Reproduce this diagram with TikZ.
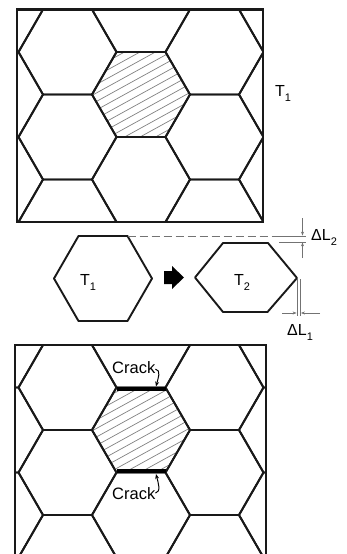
\documentclass[tikz,border=0pt]{standalone}
\usepackage{fontspec}
\setmainfont{Liberation Sans}
\usetikzlibrary{arrows.meta}

\newcommand{\lsub}[1]{\raisebox{-0.33em}{\fontsize{11}{11}\selectfont #1}}

\tikzset{
  hexline/.style={line width=1.9pt, line join=round, black!90},
  boxline/.style={line width=2.5pt, black!90},
  hatchline/.style={line width=0.7pt, black!50},
  dimline/.style={line width=0.9pt, black!55},
  dimarrow/.style={dimline, -{Stealth[length=4pt,width=3pt]}},
  crackbar/.style={line width=3.6pt, black},
  leader/.style={line width=1pt, -{Stealth[length=5pt,width=4pt]}},
  lbl/.style={font=\fontsize{16}{19}\selectfont, inner sep=0pt},
  cracklbl/.style={font=\fontsize{16.5}{19}\selectfont, inner sep=0pt}
}

\begin{document}
\begin{tikzpicture}[x=1pt,y=-1pt]
    \useasboundingbox (0,0) rectangle (347,554);

    % Sheet at T1
    \begin{scope}
        \clip (17,9.5) rectangle (263,222);
        \begin{scope}
            \clip (92,94.5) -- (116.5,52) -- (165.5,52) -- (190,94.5) -- (165.5,137) -- (116.5,137) -- cycle;
            \foreach \t in {-51,-42.5,...,52}
                \draw[hatchline] (80,94.5+\t+33) -- (200,94.5+\t-33);
        \end{scope}
        \foreach \i in {-2,...,2}
            \foreach \j in {-2,...,2}{
                \pgfmathsetmacro\cy{94.5+85*\j+42.5*mod(abs(\i),2)}
                \draw[hexline, shift={(141+73.5*\i,\cy)}] (-49,0) -- (-24.5,-42.5) -- (24.5,-42.5) -- (49,0) -- (24.5,42.5) -- (-24.5,42.5) -- cycle;
            }
    \end{scope}
    \draw[boxline] (17,9.5) rectangle (263,222);
    \node[lbl, anchor=base west] (tsheet) at (275,96) {T\lsub{1}};

    % Single grain, before and after
    \draw[hexline] (54,278.5) -- (78.5,236) -- (127.5,236) -- (152,278.5) -- (127.5,321) -- (78.5,321) -- cycle;
    \node[lbl, anchor=base west] (tone) at (80,285) {T\lsub{1}};
    \fill (164,271) -- (172,271) -- (172,266) -- (184,277.5) -- (172,289) -- (172,284) -- (164,284) -- cycle;
    \draw[hexline] (195,277.5) -- (223,243) -- (268,243) -- (297,278) -- (267.5,312) -- (223,312) -- cycle;
    \node[lbl, anchor=base west] (ttwo) at (234,285) {T\lsub{2}};

    % Dimensions
    \coordinate (oldtop) at (127.5,236);
    \coordinate (dashend) at (272,236);
    \coordinate (oldtopend) at (306,236);
    \coordinate (newtop) at (279,242);
    \coordinate (newtopend) at (306,242);
    \coordinate (dltwoa) at (302.5,218);
    \coordinate (dltwob) at (302.5,235.6);
    \coordinate (dltwoc) at (302.5,258);
    \coordinate (dltwod) at (302.5,242.4);
    \draw[dimline, dash pattern=on 8pt off 4pt] (oldtop) -- (dashend);
    \draw[dimline] (dashend) -- (oldtopend);
    \draw[dimline] (newtop) -- (newtopend);
    \draw[dimarrow] (dltwoa) -- (dltwob);
    \draw[dimarrow] (dltwoc) -- (dltwod);
    \node[lbl, anchor=base west] (dltwo) at (311,240) {ΔL\lsub{2}};

    \coordinate (vxa) at (297,279);
    \coordinate (vxb) at (297,316);
    \coordinate (vxc) at (300.5,279);
    \coordinate (vxd) at (300.5,316);
    \coordinate (dlonea) at (282,313);
    \coordinate (dloneb) at (296.6,313);
    \coordinate (dlonec) at (320,313);
    \coordinate (dloned) at (300.9,313);
    \draw[dimline] (vxa) -- (vxb);
    \draw[dimline] (vxc) -- (vxd);
    \draw[dimarrow] (dlonea) -- (dloneb);
    \draw[dimarrow] (dlonec) -- (dloned);
    \node[lbl, anchor=base west] (dlone) at (287,335) {ΔL\lsub{1}};

    % Sheet at T2, cracked
    \begin{scope}
        \clip (15,345) rectangle (266,554);
        \begin{scope}
            \clip (92,430) -- (116.5,390.5) -- (165.5,390.5) -- (190,430) -- (165.5,469.5) -- (116.5,469.5) -- cycle;
            \foreach \t in {-51,-42.5,...,52}
                \draw[hatchline] (80,430+\t+33) -- (200,430+\t-33);
        \end{scope}
        \foreach \i in {-2,...,2}
            \foreach \j in {-1,...,2}{
                \pgfmathsetmacro\cy{430+85*\j+42.5*mod(abs(\i),2)}
                \draw[hexline, shift={(141+73.5*\i,\cy)}] (-49,0) -- (-24.5,-42.5) -- (24.5,-42.5) -- (49,0) -- (24.5,42.5) -- (-24.5,42.5) -- cycle;
            }
    \end{scope}
    \draw[boxline] (15,554) -- (15,345) -- (266,345) -- (266,554);

    % Cracks
    \draw[crackbar] (116.5,389) -- (165.5,389);
    \draw[crackbar] (116.5,471) -- (165.5,471);
    \node[cracklbl, anchor=base west] (cracka) at (112,373) {Crack};
    \node[cracklbl, anchor=base west] (crackb) at (112,499) {Crack};
    \coordinate (crackatip) at (156,386.5);
    \coordinate (crackbtip) at (156,474);
    \draw[leader] ([shift={(0,2)}]cracka.east) .. controls +(6,1) and +(2,-8) .. (crackatip);
    \draw[leader] ([shift={(0,0)}]crackb.east) .. controls +(6,-1) and +(2,8) .. (crackbtip);
\end{tikzpicture}
\end{document}
